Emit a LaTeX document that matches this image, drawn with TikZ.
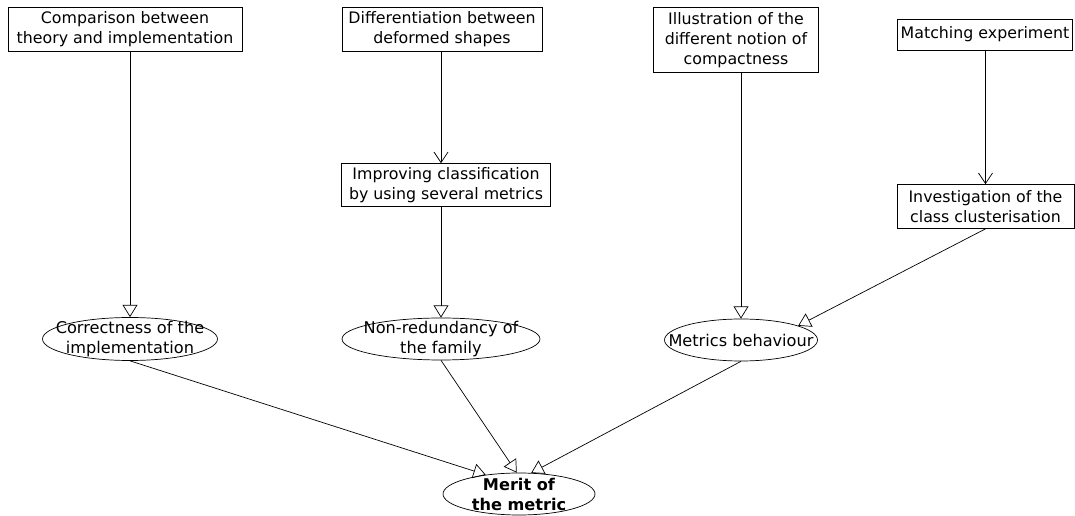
\documentclass[tikz,border=0pt]{standalone}
\usepackage{fontspec}
\setmainfont{DejaVu Sans}
\usetikzlibrary{shapes,arrows.meta}
\tikzstyle{task}=[draw,thin,rectangle,align=center,inner sep=0pt,font=\fontsize{9}{11.4}\selectfont]
\tikzstyle{goal}=[draw,thin,ellipse,inner sep=0pt]
\tikzstyle{goaltext}=[align=center,inner sep=0pt,font=\fontsize{9.2}{11.4}\selectfont]
\tikzstyle{refine}=[thin,-{Triangle[open,length=7pt,width=8.5pt]}]
\tikzstyle{lead}=[thin,-{Straight Barb[length=6pt,width=8pt]}]

\begin{document}
\begin{tikzpicture}[x=0.02cm,y=-0.02cm]
		\useasboundingbox (0,0) rectangle (1075,516);

		% top boxes
		\node[task,minimum width=4.68cm,minimum height=0.88cm] (comp) at (125,29.5) {Comparison between\\theory and implementation};
		\node[task,minimum width=4.0cm,minimum height=0.88cm] (diff) at (442,29.5) {Differentiation between\\deformed shapes};
		\node[task,minimum width=3.3cm,minimum height=1.3cm] (illu) at (736,40) {Illustration of the\\different notion of\\compactness};
		\node[task,minimum width=3.5cm,minimum height=0.62cm] (match) at (985,34.5) {Matching experiment};
		\node[task,minimum width=4.18cm,minimum height=0.86cm] (impr) at (446,185) {Improving classification\\by using several metrics};
		\node[task,minimum width=3.54cm,minimum height=0.88cm] (inv) at (985.5,206.5) {Investigation of the\\class clusterisation};

		% goals
		\node[goal,minimum width=3.5cm,minimum height=0.86cm,label={[goaltext]center:Correctness of the\\implementation}] (corr) at (130,339) {};
		\node[goal,minimum width=3.96cm,minimum height=0.84cm,label={[goaltext]center:Non-redundancy of\\the family}] (nonr) at (441,339) {};
		\node[goal,minimum width=3.06cm,minimum height=0.84cm,label={[goaltext]center:Metrics behaviour}] (beha) at (741,340) {};
		\node[goal,minimum width=3.04cm,minimum height=0.84cm,label={[goaltext,font=\fontsize{9.2}{11.4}\selectfont\bfseries]center:Merit of\\the metric}] (merit) at (519,494) {};

		\draw[refine] (comp.south -| corr.north) -- (corr.north);
		\draw[lead] (diff.south -| nonr.north) -- (impr.north -| nonr.north);
		\draw[refine] (impr.south -| nonr.north) -- (nonr.north);
		\draw[refine] (illu.south -| beha.north) -- (beha.north);
		\draw[lead] (match.south -| inv.north) -- (inv.north);
		\draw[refine] (inv.south) -- (beha.14);

		\foreach \s / \t in {corr/150,nonr/96,beha/60} { \draw[refine] (\s.south) -- (merit.\t);}
	\end{tikzpicture}
\end{document}
